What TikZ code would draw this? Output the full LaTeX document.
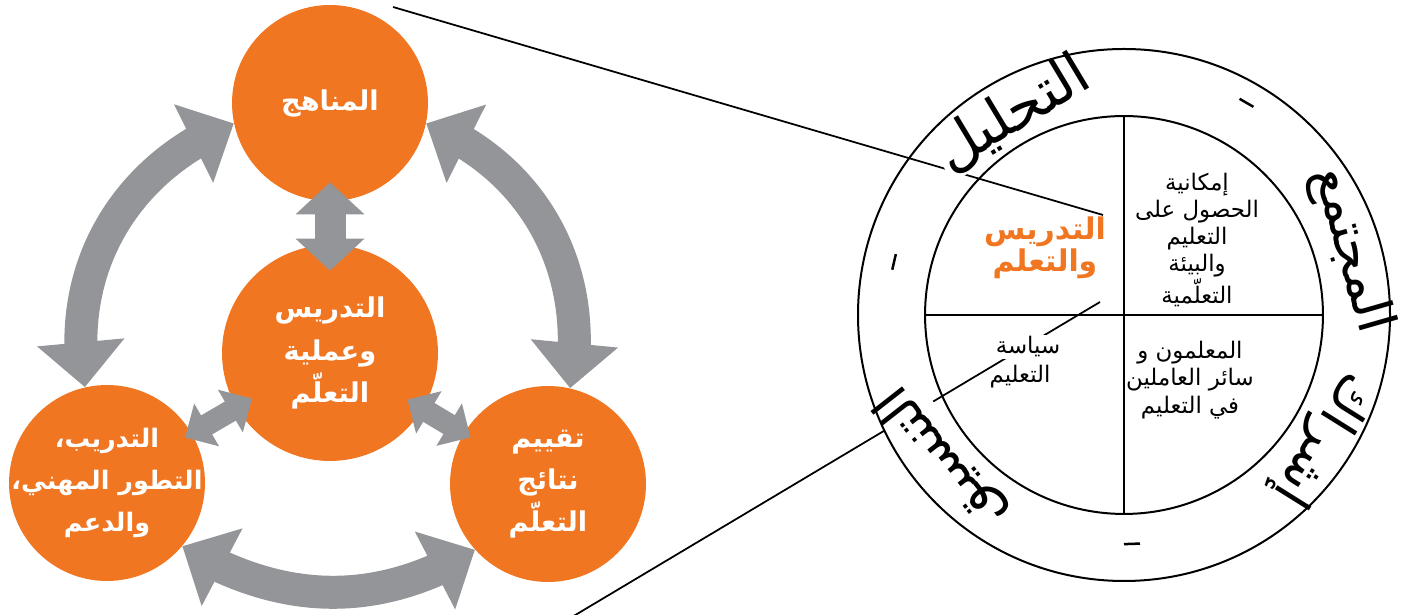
\documentclass[tikz,border=0pt]{standalone}
\usepackage{fontspec}
\usetikzlibrary{arrows.meta,bending,calc}
\newfontfamily\arabicfont[Script=Arabic]{DejaVu Sans}
\TeXXeTstate=1
\definecolor{geqorange}{HTML}{F07622}
\definecolor{geqgray}{HTML}{939598}
\newcommand{\ar}[1]{\beginR #1\endR}
% a line of a disc label, kept from widening the disc
\newcommand{\dl}[1]{\makebox[0pt]{\beginR #1\endR}}

\begin{document}
\begin{tikzpicture}[x=0.02cm,y=0.02cm,
  disc/.style={circle,fill=geqorange,text=white,inner sep=0pt,minimum size=3.92cm,
    align=center,font=\arabicfont\bfseries\fontsize{15.5}{24}\selectfont},
  bigarrow/.style={draw=geqgray,line width=0.66cm,
    {Triangle[width=1.7cm,length=0.9cm]}-{Triangle[width=1.7cm,length=0.9cm]}},
  midarrow/.style={draw=geqgray,line width=0.62cm,
    {Triangle[width=1.34cm,length=0.64cm]}-{Triangle[width=1.34cm,length=0.64cm]}},
  smallarrow/.style={draw=geqgray,line width=0.44cm,
    {Triangle[width=0.96cm,length=0.5cm]}-{Triangle[width=0.96cm,length=0.5cm]}},
  zoomline/.style={draw=black,line width=1pt},
  ringline/.style={draw=black,line width=0.04cm},
  ringword/.style={font=\arabicfont\fontsize{30}{32}\selectfont,inner sep=1pt,fill=white},
  cell/.style={font=\arabicfont\fontsize{13}{15.5}\selectfont,align=center,inner sep=1pt},
]
\useasboundingbox (0,0) rectangle (1407,615);

% the four circles
\node[disc] (cur) at (330,512) {\dl{المناهج}};
\node[disc,minimum size=4.32cm] (tl) at (330,262) {\dl{التدريس}\\\dl{وعملية}\\\dl{التعلّم}};
\node[disc,font=\arabicfont\bfseries\fontsize{14.5}{24}\selectfont] (trn) at (107,132)
  {\dl{التدريب،}\\\dl{التطور المهني،}\\\dl{والدعم}};
\node[disc] (ass) at (548,131) {\dl{تقييم}\\\dl{نتائج}\\\dl{التعلّم}};

% arrows between them
\draw[midarrow,shorten <=-0.38cm,shorten >=-0.52cm] (cur) -- (tl);
\draw[smallarrow,shorten <=-0.36cm,shorten >=-0.16cm] (tl) -- (trn);
\draw[smallarrow,shorten <=-0.36cm,shorten >=-0.16cm] (tl) -- (ass);
\draw[bigarrow] (cur.192) to[out=202,in=100] (trn.103);
\draw[bigarrow] (cur.-12) to[out=-22,in=80] (ass.77);
\draw[bigarrow] (trn.-40) to[out=-31,in=211] (ass.222);

% zoom lines to the quadrant circle
\coordinate (rc) at (1124,300);
\coordinate (zaTop) at (393,608);
\coordinate (zaEnd) at (1103,400);
\coordinate (zbBot) at (572,-2);
\coordinate (zbEnd) at (1100,313);
\draw[zoomline] (zaTop) -- (zaEnd);
\draw[zoomline] (zbBot) -- (zbEnd);

% words in the ring
\node[ringword,font=\arabicfont\fontsize{33}{35}\selectfont,rotate=31] (wanal) at ($(rc)+(119:230)$) {\ar{التحليل}};
\node[ringword,rotate=-74] (wsoc) at ($(rc)+(16:236)$) {\ar{المجتمع}};
\node[ringword,rotate=-122] (weng) at ($(rc)+(-32:234)$) {\ar{إشراك}};
\node[ringword,rotate=128] (wcoord) at ($(rc)+(218:232)$) {\ar{التنسيق}};

% quadrant texts
\node[cell,text=geqorange,font=\arabicfont\bfseries\fontsize{17}{17}\selectfont] (tlq) at (1045,367) {\ar{التدريس}\\\ar{والتعلم}};
\node[cell] (trq) at (1197,375) {\ar{إمكانية}\\\ar{الحصول على}\\\ar{التعليم}\\\ar{والبيئة}\\\ar{التعلّمية}};
\node[cell,fill=white] (pol) at (1028,268) {\ar{سياسة}};
\node[cell] (pol2) at (1020,238) {\ar{التعليم}};
\node[cell] (brq) at (1190,235) {\ar{المعلمون و}\\\ar{سائر العاملين}\\\ar{في التعليم}};

% ring and cross
\draw[ringline] (rc) circle[radius=266];
\node[circle,ringline,minimum size=7.96cm,inner sep=0pt] (quad) at (rc) {};
\draw[ringline] (quad.north) -- (quad.south);
\draw[ringline] (quad.west) -- (quad.east);
\foreach \a/\r in {60/245,167/236,-88/229}
  \draw[line width=0.05cm] ($(rc)+(\a:\r)+(\a+90:8)$) -- ($(rc)+(\a:\r)+(\a-90:8)$);

\end{tikzpicture}
\end{document}
